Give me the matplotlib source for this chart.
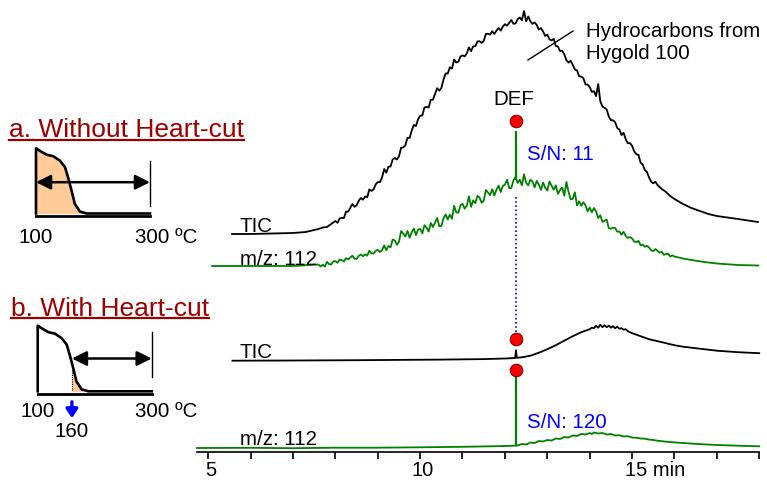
import numpy as np
import matplotlib.pyplot as plt
from matplotlib.lines import Line2D
from matplotlib.transforms import ScaledTranslation

plt.rcParams['font.family'] = ['Liberation Sans', 'DejaVu Sans']

W, H = 767, 481
FS = 14.8

# ---- chromatogram data (time in min, signal in a.u.) ----
# a. without heart-cut, TIC
tic_a_head_t = [5.56, 6.0, 6.5, 7.0, 7.3, 7.5, 7.6, 7.7, 7.8, 7.9]
tic_a_head_y = [0, 0, 0.5, 1, 2, 4, 5, 6.5, 7, 10]
# every 0.05 min from 8.00 to 15.60
tic_a_mid_y = [
    13, 11.2, 15.5, 16.2, 16, 22.3, 22.4, 26.2, 30, 27.2, 28.6, 33.3, 36, 34.3, 37.6, 36.8, 44.6, 43.1, 44.6, 49.6,
    52, 51.8, 56.5, 65, 61.3, 67.3, 67.5, 74.5, 76, 74.5, 77.8, 86.3, 86.5, 88.8, 96.3, 96, 103.5, 109, 108, 114.8,
    118.3, 118.5, 126.5, 127, 126.5, 134.3, 134.3, 140, 145.8, 143.3, 146, 154.5, 160.5, 160.5, 166.8, 165.3, 174.5, 171.5, 172.3, 177.5,
    178.6, 177.6, 180.6, 186.6, 182.8, 187.6, 187.8, 192.5, 192.8, 191.1, 193.2, 200, 200.2, 199.4, 202.8, 200, 203.4, 206, 203.4, 207.5,
    209.8, 208.4, 211.2, 214, 210.2, 210.6, 214.8, 216.5, 213.8, 223, 212.8, 217.6, 212.6, 210.1, 211.6, 209, 204.4, 206, 202.4, 198,
    199.4, 194.7, 193.6, 195.2, 188, 187.5, 182.9, 183.3, 179.7, 173.8, 171.4, 173.2, 169.1, 164.5, 163.6, 157.7, 157.4, 155.8, 149.6, 149.4,
    146.9, 142.1, 142.8, 137.9, 150, 132.6, 127.5, 126.1, 124.7, 117.4, 113.8, 113.7, 111.8, 105.9, 104.5, 99, 101.2, 94.6, 90.7, 90.9,
    88.2, 82.5, 79.7, 79.2, 71.4, 69.5, 64.1, 62, 56.6, 52.2, 50.7, 52.3, 48.9]
tic_a_tail_t = [15.7, 15.8, 15.9, 16.0, 16.2, 16.4, 16.6, 16.8, 17.0, 17.5, 17.97]
tic_a_tail_y = [45, 42, 38, 35, 30, 26, 23, 20, 18, 15, 12]

# a. without heart-cut, m/z 112
mz_a_head_t = [5.09, 7.0]
mz_a_head_y = [0, 0]
# every 0.05 min from 7.60 to 16.00
mz_a_mid_y = [
    1.5, -0.5, 1.3, -0.5, 4.2, 1.8, 1.6, 4.6,
    4.8, 3.3, 6.5, 5.8, 4.5, 7.9, 6.6, 8.4, 10.3, 7.2, 7.2, 10.1, 11.5, 9.7, 11.7, 10.3, 15.2, 12.7, 12.5, 15.2,
    16.1, 14.0, 15.8, 20.7, 15.8, 20.1, 18.6, 26.5, 25.6, 21.2, 24.4, 35, 32.4, 29.5, 35.1, 28.2, 33.8, 37.5, 30.8, 36.5,
    37, 32.7, 40.7, 38.4, 34.5, 43, 39, 43.5, 48, 39.8, 39.9, 47.7, 51.5, 46.5, 51.4, 47.2, 60.2, 53.7, 53.2, 60.7,
    62.2, 57.3, 60.4, 69.6, 59.1, 65.6, 62.8, 70.1, 68.6, 63.2, 65.4, 76, 73.4, 70.9, 76.8, 70.4, 76.3, 80.4, 74, 80.1,
    81.4, 86.2, 77.9, 78, 85.6, 89, 83.1, 86.4, 80.6, 91.7, 83.2, 80.7, 86.2, 84.4, 78.6, 85.1, 81.3, 76.1, 83.4, 78.2,
    75.4, 84.5, 80.4, 76.3, 80.6, 72.1, 76, 78.4, 70.3, 84, 74.2, 66.7, 67.2, 73.7, 60.6, 64.7, 60.2, 63.8, 60.7, 54.6,
    58.5, 53.6, 58, 54.6, 48, 50.7, 44.1, 45.3, 46.5, 37.8, 37.2, 38.4, 38, 34.3, 34.5, 31.2, 34.2, 29.9, 28, 29,
    27.5, 24.4, 23.8, 25.2, 20.7, 21.4, 19.3, 20.2, 18.5, 15.6, 14.9, 17, 15.2, 13.3, 14.1, 11.2, 12, 12.3, 9.5, 10.6,
    9.5]
mz_a_tail_t = [16.2, 16.4, 16.7, 17.0, 17.5, 17.98]
mz_a_tail_y = [7.5, 6, 4, 2.5, 1, 0.5]

# b. with heart-cut, TIC
tic_b_t = [5.57, 7.0, 8.5, 9.5, 10.5, 11.5, 12.0, 12.24, 12.26, 12.28, 12.4, 12.6, 12.8,
           13.0, 13.2, 13.4, 13.6, 13.8, 13.9, 14.0, 14.05, 14.1, 14.15, 14.2, 14.25, 14.3,
           14.35, 14.4, 14.45, 14.5, 14.55, 14.6, 14.65, 14.7, 14.75, 14.8, 14.85, 14.9,
           15.0, 15.1, 15.2, 15.3, 15.4, 15.5, 15.6, 15.7, 15.8, 16.0, 16.2, 16.4, 16.6,
           16.8, 17.0, 17.5, 18.0]
tic_b_y = [0, 0.2, 0.5, 0.8, 1.1, 1.6, 2.2, 2.7, 10.5, 2.9, 3.4, 5, 8,
           11.5, 15.5, 20, 24.5, 28.5, 30, 31.5, 33, 32.5, 35, 33, 36, 33.5,
           35.5, 33.5, 35, 33, 34.5, 32.5, 34, 32, 32.5, 31, 31.5, 29.5,
           27.5, 26, 24.5, 23, 21.5, 20.5, 19.5, 18.5, 17.5, 15.5, 14, 13, 12,
           11, 10, 8.5, 7.5]

# b. with heart-cut, m/z 112
mz_b_t = [4.73, 6.0, 7.0, 8.0, 9.0, 10.0, 11.0, 11.8, 12.24, 12.3, 12.4, 12.5, 12.6, 12.7,
          12.8, 12.9, 13.0, 13.1, 13.2, 13.3, 13.4, 13.5, 13.6, 13.7, 13.8, 13.9, 14.0,
          14.05, 14.1, 14.2, 14.3, 14.4, 14.5, 14.6, 14.7, 14.8, 14.9, 15.0, 15.1, 15.2,
          15.3, 15.4, 15.5, 15.6, 15.8, 16.0, 16.3, 16.6, 17.0, 17.5, 18.0]
mz_b_y = [0, 0.2, -0.2, 0.3, 0.3, 0.7, 1.2, 1.8, 2.3, 2.5, 4, 3.5, 5.5, 5,
          7, 6.5, 8, 7.5, 9.5, 9, 11, 10.5, 12.5, 12, 14, 13.5, 15,
          14, 15.5, 14.5, 15, 13.5, 14, 12.5, 12.8, 11.5, 11.8, 10.5, 10.2, 9.5,
          9.3, 8.4, 8, 7.3, 6.3, 5.6, 4.7, 3.9, 3, 2.3, 1.7]

# DEF peak
def_rt = 12.26
def_spike_a = (86, 135)      # m/z 112 trace, base -> top
def_spike_b = (2.5, 72)
dot_a, dot_tic_b, dot_mz_b = 145, 22, 78
sn_a, sn_b = 11, 120

# temperature program sketch (deg C, relative)
prof_t = [100, 100, 107, 119, 130, 142, 151, 157, 160, 163, 168, 177, 189, 300]
prof_y = [0, 1.0, 0.96, 0.90, 0.88, 0.81, 0.71, 0.53, 0.43, 0.33, 0.15, 0.03, 0, 0]
cut_temp = 160
t_start, t_end = 100, 300


def tx(px):
    return 5 + (px - 208.3) / 42.38


def ty(py):
    return H - py


fig = plt.figure(figsize=(W / 100, H / 100), dpi=100)
ax = fig.add_axes([0, 0, 1, 1])
ax.set_xlim(tx(0), tx(W))
ax.set_ylim(0, H)
ax.axis('off')

off_tic_a, off_mz_a = ty(235), ty(267)
off_tic_b, off_mz_b = ty(361.7), ty(449)

green = '#008000'
t_a = np.concatenate([tic_a_head_t, np.linspace(8.0, 15.6, len(tic_a_mid_y)), tic_a_tail_t])
y_a = np.concatenate([tic_a_head_y, tic_a_mid_y, tic_a_tail_y])
ax.plot(t_a, off_tic_a + y_a, color='black', lw=1.3)

t_m = np.concatenate([mz_a_head_t, np.linspace(7.6, 16.0, len(mz_a_mid_y)), mz_a_tail_t])
y_m = np.concatenate([mz_a_head_y, mz_a_mid_y, mz_a_tail_y])
ax.plot(t_m, off_mz_a + y_m, color=green, lw=1.3)
ax.vlines(def_rt, off_mz_a + def_spike_a[0], off_mz_a + def_spike_a[1], color=green, lw=1.6)

ax.plot(tic_b_t, off_tic_b + np.array(tic_b_y), color='black', lw=1.3)
ax.plot(mz_b_t, off_mz_b + np.array(mz_b_y), color=green, lw=1.3)
ax.vlines(def_rt, off_mz_b + def_spike_b[0], off_mz_b + def_spike_b[1], color=green, lw=1.6)

# dotted guide + DEF markers
ax.plot([def_rt, def_rt], [off_mz_a + 69, off_tic_b + dot_tic_b + 7],
        color='blue', ls=(0, (1, 1.5)), lw=1.2)
for yy in [off_mz_a + dot_a, off_tic_b + dot_tic_b, off_mz_b + dot_mz_b]:
    ax.plot(def_rt, yy, 'o', ms=9, mfc='#ff0000', mec='#7a0000', mew=0.8, zorder=5)

# trace labels
ax.text(tx(240), ty(232), 'TIC', fontsize=FS, va='baseline')
ax.text(tx(240), ty(265), 'm/z: 112', fontsize=FS, va='baseline')
ax.text(tx(240), ty(358), 'TIC', fontsize=FS, va='baseline')
ax.text(tx(240), ty(445), 'm/z: 112', fontsize=FS, va='baseline')
ax.text(tx(513.7), ty(105), 'DEF', fontsize=FS, va='baseline', ha='center')
ax.text(tx(527), ty(160), f'S/N: {sn_a}', fontsize=FS, va='baseline', color='blue')
ax.text(tx(527), ty(428), f'S/N: {sn_b}', fontsize=FS, va='baseline', color='blue')
ax.text(tx(586), ty(36.7), 'Hydrocarbons from', fontsize=FS, va='baseline')
ax.text(tx(586), ty(59.3), 'Hygold 100', fontsize=FS, va='baseline')
ax.plot([tx(528), tx(573)], [ty(61), ty(32)], color='black', lw=1)

# time axis
tax = fig.add_axes([197 / W, (H - 452.7) / H, (759 - 197) / W, 0.05])
tax.patch.set_alpha(0)
tax.set_xlim(tx(197), 18.0)
for s in ['top', 'left', 'right']:
    tax.spines[s].set_visible(False)
tax.spines['bottom'].set_linewidth(1.2)
tax.set_yticks([])
tax.set_xticks([5, 10, 15])
tax.set_xticklabels(['5', '10', '15 min'])
tax.set_xticks([m for m in range(6, 19) if m not in (10, 15)], minor=True)
tax.tick_params(which='both', direction='out', length=5, width=1.2, labelsize=14.5, pad=1.2)
for i, lbl in enumerate(tax.get_xticklabels()):
    dx = 3 / 100
    if i == 2:
        lbl.set_ha('left')
        dx = -7 / 100
    lbl.set_transform(lbl.get_transform() + ScaledTranslation(dx, 0, fig.dpi_scale_trans))


# temperature program sketches
def sketch(x0, x1, py_base, py_top, fill_from, arrow_from, vbar, arrow_y):
    iax = fig.add_axes([x0 / W, (H - py_base) / H, (x1 - x0) / W, (py_base - py_top) / H])
    iax.set_xlim(t_start, t_end)
    iax.set_ylim(0, 1)
    iax.axis('off')
    pt = np.array(prof_t)
    py = np.array(prof_y)
    iax.fill_between(pt, py, 0, where=pt >= fill_from, color='#ffcc99', lw=0, clip_on=False)
    iax.plot(pt, py, color='black', lw=1.9, clip_on=False, solid_joinstyle='round')
    iax.plot([t_start, t_end], [-0.04, -0.04], color='black', lw=2.0, clip_on=False)
    iax.plot([t_end, t_end], vbar, color='black', lw=1.0, clip_on=False)
    iax.annotate('', xy=(t_end, arrow_y), xytext=(arrow_from, arrow_y),
                 arrowprops=dict(arrowstyle='<|-|>', color='black', lw=1.8,
                                 mutation_scale=22, shrinkA=0, shrinkB=0), annotation_clip=False)
    return iax


ia = sketch(36, 150, 214.5, 149.3, t_start, t_start, [0.12, 0.81], 0.48)
ia.text(t_start, -0.43, '100', fontsize=FS, ha='center', va='baseline')
ia.text(t_start + 200 * 99 / 114, -0.43, '300 \u00baC', fontsize=FS, ha='left', va='baseline')

ib = sketch(37.7, 151.7, 392.3, 326.7, cut_temp, cut_temp, [0.22, 0.90], 0.50)
ib.plot([cut_temp, cut_temp], [0, 0.43], color='black', ls=(0, (1, 1)), lw=0.8)
ib.text(t_start, -0.38, '100', fontsize=FS, ha='center', va='baseline')
ib.text(t_start + 200 * 97.3 / 114, -0.38, '300 \u00baC', fontsize=FS, ha='left', va='baseline')
ib.text(cut_temp, -0.68, str(cut_temp), fontsize=FS, ha='center', va='baseline')
ib.annotate('', xy=(cut_temp, -0.41), xytext=(cut_temp, -0.16),
            arrowprops=dict(arrowstyle='-|>,head_length=0.38,head_width=0.25', color='blue',
                            lw=2.4, mutation_scale=14, shrinkA=0, shrinkB=0),
            annotation_clip=False)

# underlined section titles
red = '#9b0000'
ta = fig.text(9 / W, (H - 137) / H, 'a. Without Heart-cut', fontsize=19, color=red, va='baseline')
tb = fig.text(11 / W, (H - 315.7) / H, 'b. With Heart-cut', fontsize=19, color=red, va='baseline')
fig.canvas.draw()
for t, py in [(ta, 141), (tb, 319.3)]:
    bb = t.get_window_extent()
    fig.add_artist(Line2D([bb.x0 / W, bb.x1 / W], [(H - py) / H] * 2, color=red, lw=1.6))

fig.savefig('out.png', dpi=100)
